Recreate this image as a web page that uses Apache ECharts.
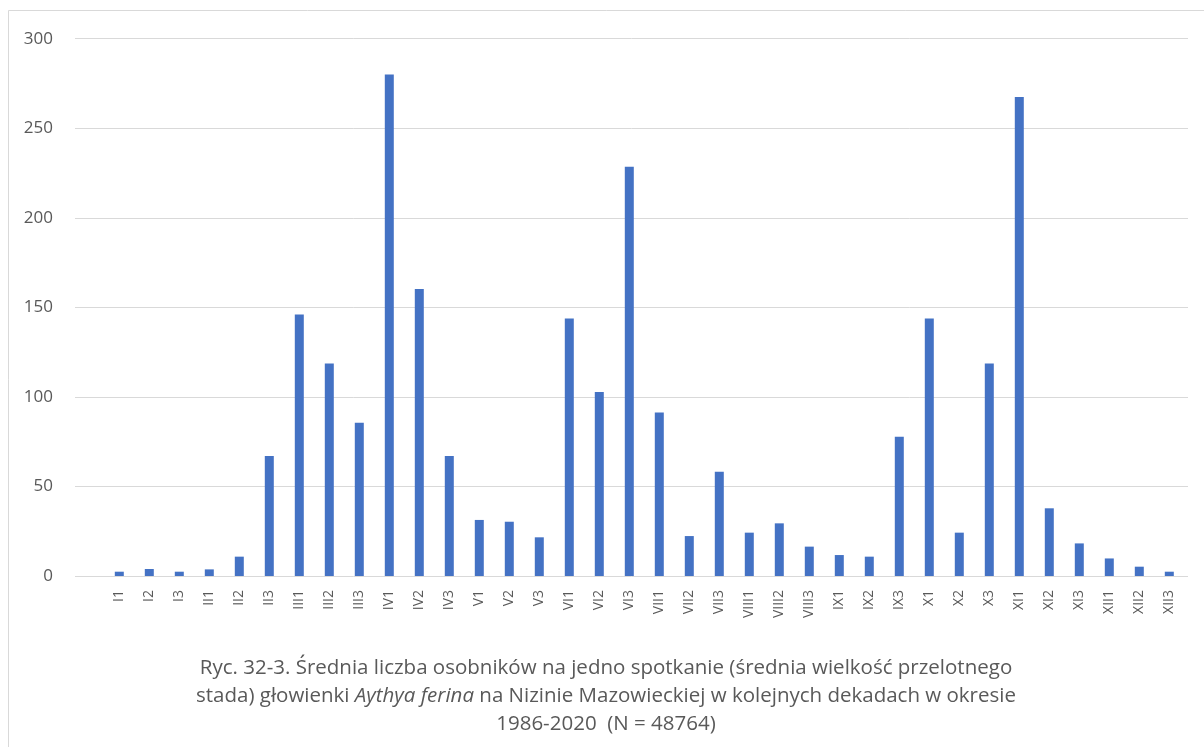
<!DOCTYPE html>
<html>
<head>
<meta charset="utf-8">
<script src="https://cdn.jsdelivr.net/npm/echarts@6/dist/echarts.min.js"></script>
<style>
html,body{margin:0;padding:0;background:#fff;}
#chart{width:1204px;height:747px;}
</style>
</head>
<body>
<div id="chart"></div>
<script>
const categories = ['I1','I2','I3','II1','II2','II3','III1','III2','III3','IV1','IV2','IV3',
  'V1','V2','V3','VI1','VI2','VI3','VII1','VII2','VII3','VIII1','VIII2','VIII3',
  'IX1','IX2','IX3','X1','X2','X3','XI1','XI2','XI3','XII1','XII2','XII3'];
const values = [2.4,3.9,2.4,3.7,10.8,67,146,118.7,85.5,280,160.2,67,
  31.3,30.3,21.6,143.8,102.8,228.5,91.3,22.3,58.2,24.2,29.4,16.4,
  11.7,10.8,77.7,143.8,24.2,118.7,267.5,37.8,18.2,9.8,5.2,2.4];
const yTicks = {min: 0, max: 300, interval: 50};
const captionLines = [
  'Ryc. 32-3. Średnia liczba osobników na jedno spotkanie (średnia wielkość przelotnego',
  ['stada) głowienki ', 'Aythya ferina', ' na Nizinie Mazowieckiej w kolejnych dekadach w okresie'],
  '1986-2020  (N = 48764)'
];

const FONT = '"Open Sans", Lato, sans-serif';
const GRAY = '#595959';
const caption = '{n|' + captionLines[0] + '}\n{n|' + captionLines[1][0] + '}{i|' + captionLines[1][1] + '}{n|' + captionLines[1][2] + '}\n{n|' + captionLines[2] + '}';
const CAP = 20.5;

const chart = echarts.init(document.getElementById('chart'), null, {renderer: 'canvas'});
chart.setOption({
  backgroundColor: '#fff',
  animation: false,
  title: {
    text: caption,
    left: 601,
    top: 649,
    textAlign: 'center',
    textStyle: {
      fontFamily: FONT, fontSize: CAP, color: GRAY, fontWeight: 'normal', lineHeight: 28,
      rich: {
        n: {fontFamily: FONT, fontSize: CAP, color: GRAY, lineHeight: 28},
        i: {fontFamily: FONT, fontSize: CAP, color: GRAY, lineHeight: 28, fontStyle: 'italic'}
      }
    }
  },
  graphic: [{
    type: 'rect', silent: true, z: -1,
    shape: {x: 8.5, y: 10.5, width: 1300, height: 800},
    style: {fill: 'none', stroke: '#d9d9d9', lineWidth: 1}
  }],
  grid: [
    {left: 75, right: 16, top: 38.7, bottom: 171, containLabel: false},
    {left: 104.3, right: 19.7, top: 38.7, bottom: 171, containLabel: false}
  ],
  xAxis: [
    {gridIndex: 0, type: 'value', min: 0, max: 1, show: false},
    {gridIndex: 1, type: 'category', data: categories, boundaryGap: true,
     axisLine: {show: false}, axisTick: {show: false},
     axisLabel: {rotate: 90, margin: 14, interval: 0, color: GRAY, fontFamily: FONT, fontSize: 14}}
  ],
  yAxis: [
    {gridIndex: 0, type: 'value', min: yTicks.min, max: yTicks.max, interval: yTicks.interval,
     axisLine: {show: false}, axisTick: {show: false},
     axisLabel: {margin: 22, color: GRAY, fontFamily: FONT, fontSize: 17},
     splitLine: {show: true, lineStyle: {color: '#d9d9d9', width: 1}}},
    {gridIndex: 1, type: 'value', min: yTicks.min, max: yTicks.max, interval: yTicks.interval, show: false,
     splitLine: {show: false}}
  ],
  series: [{
    type: 'bar', xAxisIndex: 1, yAxisIndex: 1,
    data: values, barWidth: 9,
    itemStyle: {color: '#4472C4'}
  }]
});
</script>
</body>
</html>
